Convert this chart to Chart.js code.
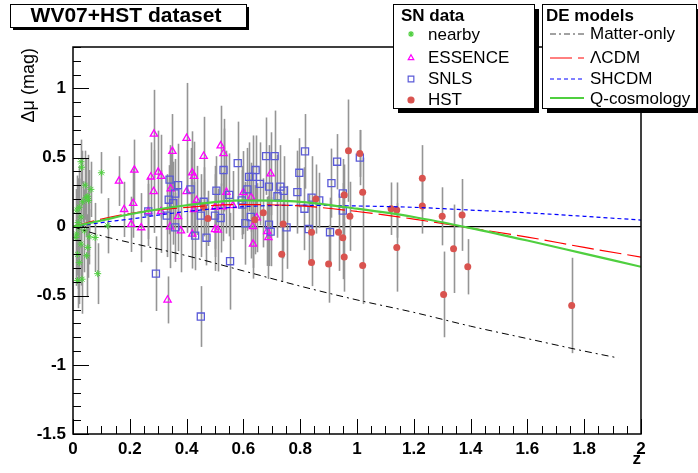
<!DOCTYPE html>
<html>
<head>
<meta charset="utf-8">
<script src="https://cdn.jsdelivr.net/npm/chart.js@4.4.1/dist/chart.umd.min.js"></script>
<style>
  html, body { margin: 0; padding: 0; background: #fff; }
</style>
</head>
<body>
<canvas id="snChart" width="698" height="473"></canvas>
<script>
// --- data ---
const X_TICKS = [0, 0.2, 0.4, 0.6, 0.8, 1, 1.2, 1.4, 1.6, 1.8, 2];
const Y_TICKS = [-1.5, -1, -0.5, 0, 0.5, 1];

const nearbyZ = [0.028, 0.03, 0.10, 0.043, 0.063, 0.052, 0.055, 0.034, 0.022, 0.014, 0.028, 0.122, 0.02, 0.04,
  0.057, 0.078, 0.028, 0.052, 0.048, 0.016, 0.022, 0.087, 0.016, 0.032, 0.01, 0.013, 0.018, 0.046];
const nearbyMu = [0.47, 0.43, 0.39, 0.30, 0.27, 0.22, 0.19, 0.18, 0.14, 0.12, 0.07, 0.007, -0.005, -0.03,
  -0.073, -0.078, -0.126, -0.15, -0.21, -0.20, -0.26, -0.34, -0.39, -0.38, -0.078, -0.053, 0.03, 0.21];
const nearbyErr = [0.16, 0.12, 0.15, 0.25, 0.2, 0.3, 0.22, 0.15, 0.3, 0.25, 0.28, 0.2, 0.35, 0.3,
  0.2, 0.25, 0.3, 0.22, 0.3, 0.25, 0.3, 0.22, 0.2, 0.25, 0.35, 0.3, 0.32, 0.28];

const essenceZ = [0.285, 0.40, 0.35, 0.46, 0.216, 0.30, 0.274, 0.31, 0.42, 0.426, 0.284, 0.344, 0.40, 0.212,
  0.18, 0.435, 0.426, 0.31, 0.37, 0.50, 0.205, 0.24, 0.342, 0.38, 0.42, 0.333, 0.50, 0.162, 0.52, 0.53,
  0.54, 0.563, 0.51, 0.60, 0.627, 0.633, 0.647, 0.634, 0.696, 0.684, 0.688, 0.527, 0.265];
const essenceMu = [0.67, 0.64, 0.545, 0.51, 0.41, 0.395, 0.36, 0.365, 0.39, 0.365, 0.255, 0.275, 0.255, 0.17,
  0.125, 0.19, 0.125, 0.11, 0.073, 0.14, 0.017, -0.007, 0.0, -0.03, -0.053, -0.53, -0.02, 0.33, 0.585, 0.53,
  0.25, 0.153, -0.024, 0.247, 0.213, 0.002, 0.065, -0.126, 0.383, -0.034, -0.078, 0.145, 0.11];
const essenceErr = [0.32, 0.40, 0.27, 0.285, 0.22, 0.3, 0.25, 0.3, 0.3, 0.25, 0.3, 0.25, 0.3, 0.25,
  0.2, 0.25, 0.2, 0.3, 0.25, 0.3, 0.2, 0.25, 0.3, 0.3, 0.25, 0.17, 0.3, 0.18, 0.29, 0.25,
  0.3, 0.25, 0.3, 0.3, 0.25, 0.3, 0.25, 0.25, 0.3, 0.25, 0.3, 0.25, 0.25];

const snlsZ = [0.292, 0.34, 0.337, 0.33, 0.36, 0.37, 0.36, 0.414, 0.43, 0.45, 0.46, 0.47, 0.45, 0.50, 0.505,
  0.52, 0.53, 0.55, 0.553, 0.58, 0.594, 0.607, 0.614, 0.62, 0.633, 0.643, 0.626, 0.658, 0.68, 0.71, 0.69,
  0.69, 0.696, 0.72, 0.73, 0.742, 0.752, 0.79, 0.797, 0.265, 0.817, 0.84, 0.83, 0.815, 0.93, 1.01, 0.91,
  0.95, 0.95, 0.905, 0.867, 0.596, 0.353];
const snlsMu = [-0.34, 0.34, 0.195, 0.08, 0.24, 0.30, -0.005, 0.27, -0.065, 0.08, 0.18, -0.08, -0.65, 0.08, 0.26,
  0.063, 0.41, 0.23, -0.25, 0.46, 0.19, 0.025, 0.27, 0.36, 0.36, 0.41, 0.07, 0.31, 0.51, 0.51, 0.29,
  0.015, -0.036, 0.22, 0.29, 0.26, -0.005, 0.25, 0.39, 0.11, 0.545, 0.21, -0.017, 0.13, 0.47, 0.50, 0.315,
  0.24, 0.116, -0.04, 0.19, 0.16, 0.17];
const snlsErr = [0.27, 0.25, 0.25, 0.3, 0.25, 0.3, 0.25, 0.3, 0.25, 0.3, 0.25, 0.2, 0.22, 0.3, 0.25,
  0.25, 0.3, 0.3, 0.35, 0.3, 0.25, 0.3, 0.3, 0.25, 0.3, 0.25, 0.3, 0.3, 0.28, 0.33, 0.3,
  0.3, 0.25, 0.3, 0.3, 0.25, 0.3, 0.3, 0.25, 0.2, 0.27, 0.3, 0.25, 0.3, 0.2, 0.2, 0.25,
  0.25, 0.2, 0.25, 0.2, 0.25, 0.3];

const hstZ = [0.735, 0.74, 0.84, 0.84, 0.855, 0.90, 0.935, 0.95, 0.955, 0.955, 0.97, 0.975, 1.01, 1.02, 1.02,
  1.12, 1.14, 1.14, 1.23, 1.23, 1.30, 1.305, 1.34, 1.37, 1.39, 1.756, 0.46, 0.475, 0.64, 0.67];
const hstMu = [-0.20, 0.02, -0.04, -0.26, 0.20, -0.27, -0.04, -0.08, -0.22, 0.23, 0.55, 0.075, 0.53, 0.25, -0.28,
  0.13, 0.12, -0.15, 0.35, 0.15, 0.075, -0.49, -0.16, 0.085, -0.29, -0.57, 0.14, 0.06, 0.05, 0.10];
const hstErr = [0.2, 0.25, 0.2, 0.17, 0.25, 0.28, 0.28, 0.3, 0.25, 0.22, 0.37, 0.25, 0.17, 0.25, 0.28,
  0.19, 0.2, 0.32, 0.24, 0.2, 0.21, 0.31, 0.32, 0.26, 0.2, 0.345, 0.2, 0.2, 0.25, 0.25];

// model curves
const modelZ = [0, 0.1, 0.2, 0.4, 0.6, 0.8, 1.0, 1.2, 1.4, 1.6, 1.8, 2.0];
const lcdmMu = [0, 0.055, 0.095, 0.14, 0.16, 0.15, 0.11, 0.055, -0.01, -0.075, -0.15, -0.22];
const shcdmMu = [0, 0.03, 0.055, 0.11, 0.145, 0.155, 0.15, 0.14, 0.12, 0.10, 0.075, 0.048];
const qcosmoMu = [0, 0.045, 0.09, 0.155, 0.19, 0.18, 0.13, 0.07, -0.01, -0.10, -0.195, -0.29];
const matterZ = [0, 0.1, 0.2, 0.4, 0.6, 0.8, 1.0, 1.2, 1.4, 1.6, 1.8, 1.92];
const matterMu = [0, -0.065, -0.115, -0.21, -0.32, -0.43, -0.53, -0.62, -0.72, -0.81, -0.90, -0.95];

const COLORS = {
  nearby: "#4fcf3f",
  essence: "#ff00ff",
  snls: "#5a5ad8",
  hst: "#d9534f",
  errBar: "#959595"
};
const FONT = "'Liberation Sans', Arial, sans-serif";

const zip = (xs, ys) => xs.map((x, i) => ({ x, y: ys[i] }));

// vertical gray error bars behind the markers
const errorBars = {
  id: "errorBars",
  beforeDatasetsDraw(chart) {
    const { ctx, chartArea, scales } = chart;
    ctx.save();
    ctx.beginPath();
    ctx.rect(chartArea.left, chartArea.top, chartArea.width, chartArea.height);
    ctx.clip();
    ctx.strokeStyle = COLORS.errBar;
    ctx.lineWidth = 1.6;
    chart.data.datasets.forEach((ds) => {
      if (!ds.errors) return;
      ds.data.forEach((p, i) => {
        const x = Math.round(scales.x.getPixelForValue(p.x)) + 0.5;
        ctx.beginPath();
        ctx.moveTo(x, scales.y.getPixelForValue(p.y - ds.errors[i]));
        ctx.lineTo(x, scales.y.getPixelForValue(p.y + ds.errors[i]));
        ctx.stroke();
      });
    });
    ctx.restore();
  }
};

function drawBox(ctx, x, y, w, h, shadow) {
  ctx.fillStyle = "#000";
  ctx.fillRect(x + shadow, y + shadow, w, h);
  ctx.fillStyle = "#fff";
  ctx.fillRect(x, y, w, h);
  ctx.strokeStyle = "#000";
  ctx.lineWidth = 1;
  ctx.strokeRect(x + 0.5, y + 0.5, w, h);
}

function marker(ctx, style, color, fill, radius, x, y) {
  ctx.save();
  ctx.strokeStyle = color;
  ctx.fillStyle = fill;
  ctx.lineWidth = 1.2;
  Chart.helpers.drawPoint(ctx, { pointStyle: style, radius, rotation: 0, borderWidth: 1.2 }, x, y);
  ctx.restore();
}

function sampleLine(ctx, color, width, dash, x1, x2, y) {
  ctx.save();
  ctx.strokeStyle = color;
  ctx.lineWidth = width;
  ctx.setLineDash(dash);
  ctx.beginPath();
  ctx.moveTo(x1, y);
  ctx.lineTo(x2, y);
  ctx.stroke();
  ctx.restore();
}

// ROOT style frame, inward ticks, title box and the two legend boxes
const rootDecor = {
  id: "rootDecor",
  afterDraw(chart) {
    const { ctx, chartArea: a, scales } = chart;
    ctx.save();
    ctx.strokeStyle = "#000";
    ctx.lineWidth = 1.5;
    ctx.strokeRect(a.left, a.top, a.right - a.left, a.bottom - a.top);

    ctx.lineWidth = 1;
    ctx.beginPath();
    for (let k = 0; k <= 40; k++) {
      const v = k * 0.05;
      const px = Math.round(scales.x.getPixelForValue(v)) + 0.5;
      const len = k % 4 === 0 ? 15 : 8;
      ctx.moveTo(px, a.bottom);
      ctx.lineTo(px, a.bottom - len);
    }
    for (let k = 0; k <= 28; k++) {
      const v = -1.5 + k * 0.1;
      const py = Math.round(scales.y.getPixelForValue(v)) + 0.5;
      const len = k % 5 === 0 ? 16 : 8;
      ctx.moveTo(a.left, py);
      ctx.lineTo(a.left + len, py);
    }
    ctx.stroke();

    // axis titles
    ctx.fillStyle = "#000";
    ctx.font = "bold 17px " + FONT;
    ctx.textAlign = "right";
    ctx.textBaseline = "middle";
    ctx.fillText("z", a.right, 459);

    ctx.save();
    ctx.translate(34, a.top + 1);
    ctx.rotate(-Math.PI / 2);
    ctx.font = "18px " + FONT;
    ctx.textAlign = "right";
    ctx.textBaseline = "alphabetic";
    ctx.fillText("\u0394\u03bc (mag)", 0, 0);
    ctx.restore();

    // title box
    drawBox(ctx, 10, 4, 236, 23, 3);
    ctx.fillStyle = "#000";
    ctx.font = "bold 21px " + FONT;
    ctx.textAlign = "center";
    ctx.textBaseline = "middle";
    ctx.fillText("WV07+HST dataset", 126, 16);

    // SN data legend
    drawBox(ctx, 393, 4, 141, 104, 5);
    ctx.fillStyle = "#000";
    ctx.textAlign = "left";
    ctx.font = "bold 17px " + FONT;
    ctx.fillText("SN data", 401, 16);
    ctx.font = "17px " + FONT;
    ctx.fillText("nearby", 428, 35);
    ctx.fillText("ESSENCE", 428, 58);
    ctx.fillText("SNLS", 428, 79);
    ctx.fillText("HST", 428, 100);
    marker(ctx, "star", COLORS.nearby, COLORS.nearby, 3, 411, 34);
    marker(ctx, "triangle", COLORS.essence, "rgba(0,0,0,0)", 3.2, 411, 58);
    marker(ctx, "rect", COLORS.snls, "rgba(0,0,0,0)", 4, 411, 79);
    marker(ctx, "circle", COLORS.hst, COLORS.hst, 3, 411, 100);

    // DE models legend
    drawBox(ctx, 542, 4, 154, 104, 5);
    ctx.fillStyle = "#000";
    ctx.font = "bold 17px " + FONT;
    ctx.fillText("DE models", 546, 16);
    ctx.font = "17px " + FONT;
    ctx.fillText("Matter-only", 590, 34);
    ctx.fillText("\u039bCDM", 590, 58);
    ctx.fillText("SHCDM", 590, 79);
    ctx.fillText("Q-cosmology", 590, 99);
    sampleLine(ctx, "#444", 1, [6, 3, 2, 3], 550, 584, 34);
    sampleLine(ctx, "#ff0000", 1, [22, 6], 550, 584, 58);
    sampleLine(ctx, "#0000ff", 1, [4, 3], 550, 584, 79);
    sampleLine(ctx, COLORS.nearby, 2, [], 550, 584, 98);
    ctx.restore();
  }
};

const ctx = document.getElementById("snChart");
new Chart(ctx, {
  type: "scatter",
  data: {
    datasets: [
      {
        label: "Q-cosmology", type: "line", data: zip(modelZ, qcosmoMu),
        borderColor: COLORS.nearby, borderWidth: 2.2, pointRadius: 0, cubicInterpolationMode: "monotone"
      },
      {
        label: "\u039bCDM", type: "line", data: zip(modelZ, lcdmMu),
        borderColor: "#ff0000", borderWidth: 1.2, borderDash: [22, 6], pointRadius: 0, cubicInterpolationMode: "monotone"
      },
      {
        label: "SHCDM", type: "line", data: zip(modelZ, shcdmMu),
        borderColor: "#0000ff", borderWidth: 1.2, borderDash: [4, 3], pointRadius: 0, cubicInterpolationMode: "monotone"
      },
      {
        label: "Matter-only", type: "line", data: zip(matterZ, matterMu),
        borderColor: "#000", borderWidth: 1, borderDash: [7, 4, 2, 4], pointRadius: 0, cubicInterpolationMode: "monotone"
      },
      {
        label: "nearby", data: zip(nearbyZ, nearbyMu), errors: nearbyErr,
        pointStyle: "star", pointRadius: 3.5, borderColor: COLORS.nearby, backgroundColor: COLORS.nearby, borderWidth: 1
      },
      {
        label: "HST", data: zip(hstZ, hstMu), errors: hstErr,
        pointStyle: "circle", pointRadius: 3.5, borderColor: COLORS.hst, backgroundColor: COLORS.hst, borderWidth: 0
      },
      {
        label: "SNLS", data: zip(snlsZ, snlsMu), errors: snlsErr,
        pointStyle: "rect", pointRadius: 5, borderColor: COLORS.snls, backgroundColor: "rgba(0,0,0,0)", borderWidth: 1.3
      },
      {
        label: "ESSENCE", data: zip(essenceZ, essenceMu), errors: essenceErr,
        pointStyle: "triangle", pointRadius: 4.2, borderColor: COLORS.essence, backgroundColor: "rgba(0,0,0,0)", borderWidth: 1.3
      }
    ]
  },
  options: {
    responsive: false,
    animation: false,
    events: [],
    layout: { padding: { top: 47, right: 57, left: 0, bottom: 0 } },
    plugins: { legend: { display: false }, tooltip: { enabled: false } },
    scales: {
      x: {
        type: "linear", min: 0, max: 2,
        afterFit(scale) { scale.height = 39; },
        afterBuildTicks(scale) { scale.ticks = X_TICKS.map((v) => ({ value: v })); },
        grid: { display: false, drawTicks: false },
        border: { display: false },
        ticks: {
          padding: 5, color: "#000", maxRotation: 0, autoSkip: false,
          font: { family: FONT, size: 17, weight: "bold" },
          callback: (v) => String(v)
        }
      },
      y: {
        type: "linear", min: -1.5, max: 1.3,
        afterFit(scale) { scale.width = 73; },
        afterBuildTicks(scale) { scale.ticks = Y_TICKS.map((v) => ({ value: v })); },
        grid: {
          drawTicks: false,
          color: (c) => (c.tick && c.tick.value === 0 ? "#000" : "rgba(0,0,0,0)"),
          lineWidth: 1.2
        },
        border: { display: false },
        ticks: {
          padding: 7, color: "#000", autoSkip: false,
          font: { family: FONT, size: 17, weight: "bold" },
          callback: (v) => String(v)
        }
      }
    }
  },
  plugins: [errorBars, rootDecor]
});
</script>
</body>
</html>
